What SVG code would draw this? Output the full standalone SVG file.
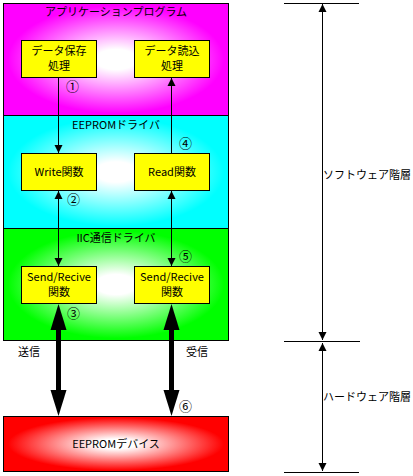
<svg xmlns="http://www.w3.org/2000/svg" width="413" height="476" viewBox="0 0 413 476">
<style>
text{font-family:"Noto Sans CJK JP","DejaVu Sans",sans-serif;font-size:11px;fill:#000}
.c{text-anchor:middle}
.n{font-size:13px}
.box{fill:#ffff00;stroke:#000;stroke-width:1}
.ln{stroke:#000;stroke-width:1;fill:none}
.thick{stroke:#000;stroke-width:5;fill:none}
</style>
<defs>
<radialGradient id="gPink" cx="0.5" cy="0.5" r="0.6"><stop offset="0.15" stop-color="#fff"/><stop offset="0.8" stop-color="#ff00ff"/></radialGradient>
<radialGradient id="gCyan" cx="0.5" cy="0.5" r="0.6"><stop offset="0.15" stop-color="#fff"/><stop offset="0.8" stop-color="#00ffff"/></radialGradient>
<radialGradient id="gGreen" cx="0.5" cy="0.5" r="0.6"><stop offset="0.15" stop-color="#fff"/><stop offset="0.8" stop-color="#00ff00"/></radialGradient>
<radialGradient id="gRed" cx="0.5" cy="0.5" r="0.6"><stop offset="0.15" stop-color="#fff"/><stop offset="0.8" stop-color="#ff0000"/></radialGradient>
<marker id="ah" viewBox="0 0 8 10" refX="8" refY="5" markerWidth="8" markerHeight="10" markerUnits="userSpaceOnUse" orient="auto"><path d="M0,1L8,5L0,9z" fill="#000"/></marker>
<marker id="as" viewBox="0 0 8 10" refX="0" refY="5" markerWidth="8" markerHeight="10" markerUnits="userSpaceOnUse" orient="auto"><path d="M8,1L0,5L8,9z" fill="#000"/></marker>
</defs>

<g id="layer-app">
<rect x="3.5" y="3.5" width="225" height="112" fill="url(#gPink)" stroke="#000"/>
<text class="c" x="116" y="16">アプリケーションプログラム</text>
</g>
<g id="layer-eeprom-driver">
<rect x="3.5" y="115.5" width="225" height="113" fill="url(#gCyan)" stroke="#000"/>
<text class="c" x="116" y="129">EEPROMドライバ</text>
</g>
<g id="layer-iic">
<rect x="3.5" y="228.5" width="225" height="112" fill="url(#gGreen)" stroke="#000"/>
<text class="c" x="116" y="242">IIC通信ドライバ</text>
</g>
<g id="layer-device">
<rect x="3.5" y="416.5" width="225" height="55" fill="url(#gRed)" stroke="#000"/>
<text class="c" x="116" y="448">EEPROMデバイス</text>
</g>

<g id="node-save"><rect class="box" x="21.5" y="40.5" width="75" height="37"/><text class="c" x="59" y="55">データ保存</text><text class="c" x="59" y="70">処理</text></g>
<g id="node-read-proc"><rect class="box" x="134.5" y="40.5" width="75" height="37"/><text class="c" x="172" y="55">データ読込</text><text class="c" x="172" y="70">処理</text></g>
<g id="node-write"><rect class="box" x="21.5" y="153.5" width="75" height="37"/><text class="c" x="59" y="176">Write関数</text></g>
<g id="node-readfn"><rect class="box" x="134.5" y="153.5" width="75" height="37"/><text class="c" x="172" y="176">Read関数</text></g>
<g id="node-send1"><rect class="box" x="21.5" y="266.5" width="75" height="37"/><text class="c" x="59" y="281">Send/Recive</text><text class="c" x="59" y="296">関数</text></g>
<g id="node-send2"><rect class="box" x="134.5" y="266.5" width="75" height="37"/><text class="c" x="172" y="281">Send/Recive</text><text class="c" x="172" y="296">関数</text></g>

<g id="connectors">
<line class="ln" x1="58.5" y1="78" x2="58.5" y2="153" marker-end="url(#ah)"/>
<line class="ln" x1="58.5" y1="191" x2="58.5" y2="266" marker-start="url(#as)" marker-end="url(#ah)"/>
<line class="ln" x1="171.5" y1="153" x2="171.5" y2="78" marker-end="url(#ah)"/>
<line class="ln" x1="171.5" y1="191" x2="171.5" y2="266" marker-start="url(#as)" marker-end="url(#ah)"/>
<line class="thick" x1="58.5" y1="325" x2="58.5" y2="392"/>
<path d="M58.5,304L50.5,330L66.5,330z" fill="#000"/>
<path d="M58.5,416L50.5,390L66.5,390z" fill="#000"/>
<line class="thick" x1="171.5" y1="325" x2="171.5" y2="392"/>
<path d="M171.5,304L163.5,330L179.5,330z" fill="#000"/>
<path d="M171.5,416L163.5,390L179.5,390z" fill="#000"/>
<line class="ln" x1="284" y1="3.5" x2="359" y2="3.5"/>
<line class="ln" x1="284" y1="341.5" x2="360" y2="341.5"/>
<line class="ln" x1="284" y1="472.5" x2="359" y2="472.5"/>
<line class="ln" x1="322.5" y1="340" x2="322.5" y2="4" marker-start="url(#as)" marker-end="url(#ah)"/>
<line class="ln" x1="322.5" y1="343" x2="322.5" y2="471" marker-start="url(#as)" marker-end="url(#ah)"/>
</g>

<g id="labels">
<text class="n" x="66" y="91">①</text>
<text class="n" x="67" y="204">②</text>
<text class="n" x="67" y="318">③</text>
<text class="n" x="179" y="148">④</text>
<text class="n" x="179" y="261">⑤</text>
<text class="n" x="179" y="411">⑥</text>
<text x="18" y="356">送信</text>
<text x="186" y="356">受信</text>
<text x="323" y="179">ソフトウェア階層</text>
<text x="323" y="401">ハードウェア階層</text>
</g>
</svg>
